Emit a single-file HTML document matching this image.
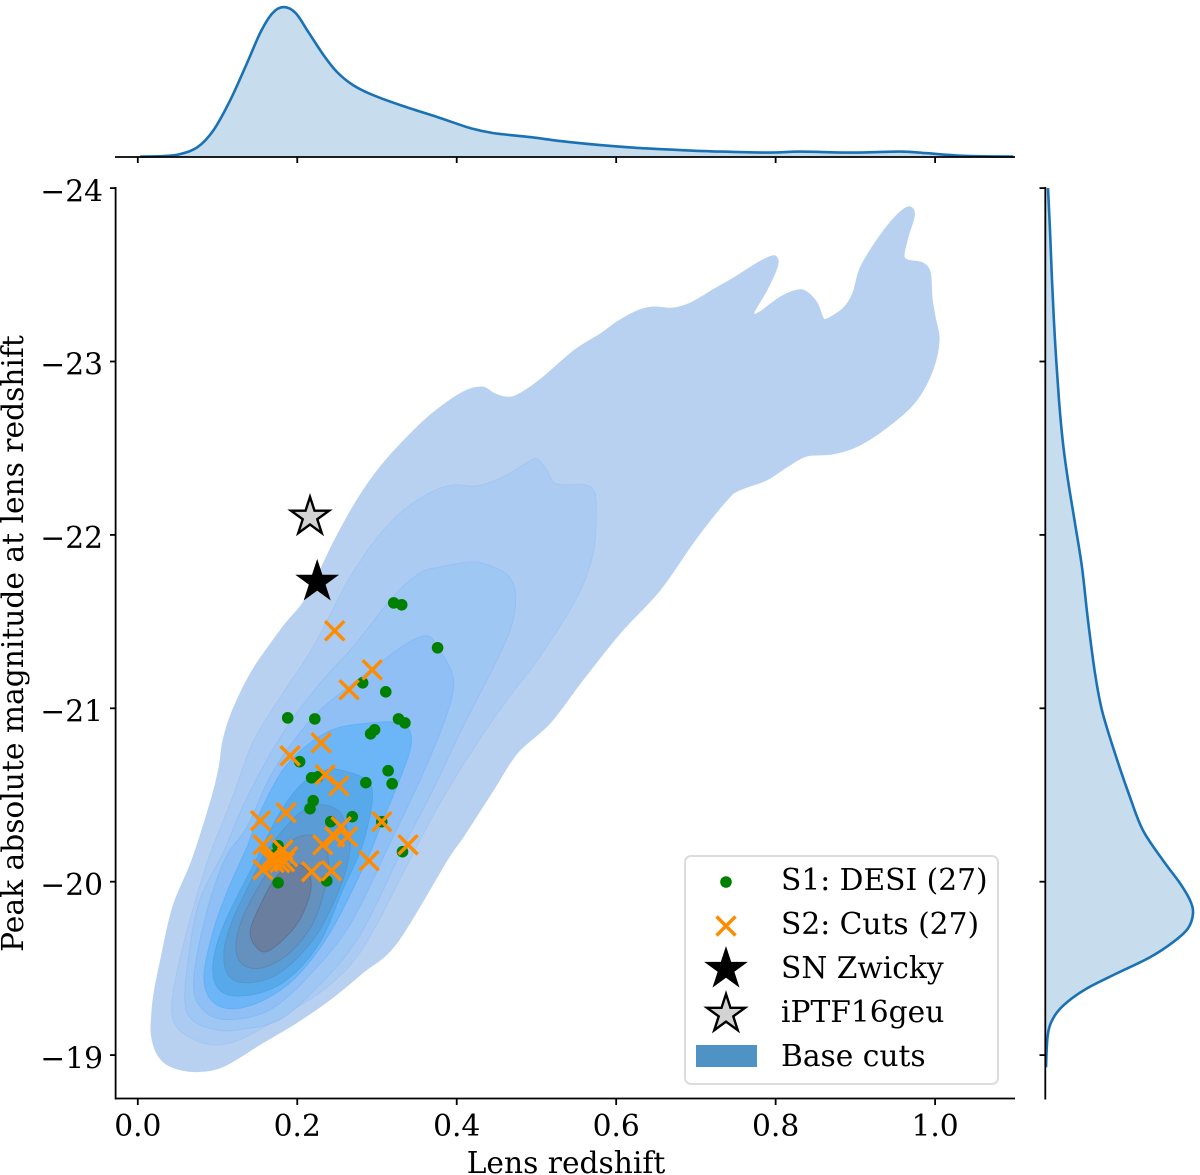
<!DOCTYPE html>
<html lang="en">
<head>
<meta charset="utf-8">
<title>Lens redshift vs peak absolute magnitude</title>
<style>
html,body{margin:0;padding:0;background:#fff;}
svg{display:block;}
text{font-family:"DejaVu Serif","Liberation Serif",serif;fill:#000;}
</style>
</head>
<body>
<svg id="chart" xmlns="http://www.w3.org/2000/svg" width="1200" height="1175" viewBox="0 0 1200 1175">
  <g id="marginal-top"></g>
  <g id="marginal-right"></g>
  <g id="contours"></g>
  <g id="s1"></g>
  <g id="s2"></g>
  <g id="stars"></g>
  <g id="axes"></g>
  <text x="566" y="1173" font-size="29.7" text-anchor="middle">Lens redshift</text>
  <text transform="translate(23,643.5) rotate(-90)" font-size="29.7" text-anchor="middle">Peak absolute magnitude at lens redshift</text>
  <g>
    <rect x="685" y="856" width="313" height="228" rx="6" ry="6" fill="#fff" fill-opacity="0.8" stroke="#dcdcdc" stroke-width="2"/>
    <circle cx="726" cy="882" r="5.8" fill="#008000"/>
    <path d="M716.5 916.5L735.5 935.5M735.5 916.5L716.5 935.5" stroke="#ff8c00" stroke-width="3.4" fill="none"/>
    <polygon id="legend-star-black" fill="#000"/>
    <polygon id="legend-star-gray" fill="#d3d3d3" stroke="#000" stroke-width="2.4"/>
    <rect x="696" y="1045" width="61" height="22" fill="#4f93c4"/>
    <text x="781" y="890" font-size="29.7">S1: DESI (27)</text>
    <text x="781" y="934" font-size="29.7">S2: Cuts (27)</text>
    <text x="781" y="978" font-size="29.7">SN Zwicky</text>
    <text x="781" y="1022" font-size="29.7">iPTF16geu</text>
    <text x="781" y="1066" font-size="29.7">Base cuts</text>
  </g>
</svg>
<script>
// Tick values and labels
const xTicks = [0, 0.2, 0.4, 0.6, 0.8, 1.0];
const xTickLabels = ['0.0', '0.2', '0.4', '0.6', '0.8', '1.0'];
const yTicks = [-24, -23, -22, -21, -20, -19];
const yTickLabels = ['\u221224', '\u221223', '\u221222', '\u221221', '\u221220', '\u221219'];

// Sample S1: DESI
const s1Redshift = [.321,.331,.376,.282,.311,.188,.222,.327,.335,.297,.292,.203,.314,.226,.218,.286,.319,.220,.216,.269,.242,.306,.176,.332,.176,.237,.172];
const s1Magnitude = [-21.608,-21.597,-21.349,-21.147,-21.095,-20.945,-20.939,-20.939,-20.916,-20.876,-20.853,-20.692,-20.640,-20.605,-20.599,-20.571,-20.565,-20.467,-20.421,-20.375,-20.346,-20.346,-20.207,-20.173,-19.994,-20.005,-20.156];

// Sample S2: Cuts
const s2Redshift = [.247,.294,.265,.230,.191,.235,.252,.154,.186,.306,.157,.339,.255,.263,.247,.232,.290,.188,.182,.169,.166,.178,.157,.218,.243,.184,.171];
const s2Magnitude = [-21.447,-21.222,-21.107,-20.801,-20.726,-20.617,-20.553,-20.352,-20.398,-20.346,-20.213,-20.213,-20.317,-20.259,-20.259,-20.213,-20.121,-20.144,-20.184,-20.144,-20.127,-20.110,-20.069,-20.058,-20.063,-20.115,-20.110];

// Individual supernovae
const zwickyPoint = [0.225, -21.729];
const iptfPoint = [0.216, -22.104];

// Marginal KDE: redshift
const topRedshift = [.003,.032,.053,.075,.095,.116,.137,.154,.169,.183,.198,.214,.233,.250,.270,.295,.333,.376,.417,.446,.492,.530,.580,.630,.681,.731,.794,.831,.894,.956,.988,1.020,1.044,1.098];
const topDensity = [0,.01,.05,.19,.53,1.13,1.87,2.49,2.87,2.99,2.87,2.49,2.03,1.69,1.43,1.23,1.01,.79,.57,.47,.39,.31,.23,.17,.13,.10,.08,.10,.08,.10,.07,.03,.01,0];

// Marginal KDE: magnitude
const rightMagnitude = [-24,-23.757,-23.468,-23.122,-22.776,-22.528,-22.315,-22.067,-21.813,-21.507,-21.202,-20.988,-20.740,-20.487,-20.296,-20.123,-19.991,-19.893,-19.818,-19.731,-19.651,-19.564,-19.472,-19.385,-19.305,-19.230,-19.126,-18.930];
const rightDensity = [.054,.094,.134,.194,.274,.354,.454,.594,.734,.854,.994,1.134,1.394,1.694,1.954,2.354,2.694,2.894,2.954,2.854,2.554,2.094,1.434,.834,.434,.194,.054,.014];

// KDE contours, [redshift, magnitude] outlines, outer to inner
const contourLevel1 = [[.074,-18.905],[.107,-18.934],[.157,-19.072],[.199,-19.187],[.241,-19.320],[.282,-19.475],[.325,-19.648],[.388,-20.125],[.408,-20.258],[.446,-20.529],[.476,-20.742],[.517,-20.915],[.558,-21.163],[.605,-21.434],[.655,-21.682],[.699,-21.971],[.739,-22.202],[.755,-22.259],[.789,-22.317],[.814,-22.392],[.839,-22.455],[.872,-22.467],[.906,-22.519],[.947,-22.646],[.977,-22.778],[.997,-22.951],[1.005,-23.124],[1.000,-23.256],[.996,-23.372],[.994,-23.510],[.985,-23.568],[.966,-23.585],[.961,-23.614],[.966,-23.718],[.974,-23.844],[.969,-23.891],[.959,-23.873],[.944,-23.804],[.927,-23.700],[.906,-23.539],[.897,-23.395],[.885,-23.308],[.864,-23.245],[.859,-23.256],[.852,-23.337],[.839,-23.401],[.827,-23.412],[.806,-23.372],[.780,-23.285],[.773,-23.285],[.789,-23.412],[.802,-23.545],[.802,-23.597],[.795,-23.608],[.777,-23.568],[.747,-23.481],[.721,-23.412],[.693,-23.337],[.671,-23.308],[.646,-23.314],[.626,-23.291],[.601,-23.228],[.580,-23.158],[.548,-23.066],[.504,-22.893],[.476,-22.807],[.461,-22.795],[.446,-22.818],[.432,-22.853],[.408,-22.824],[.370,-22.703],[.338,-22.565],[.304,-22.392],[.275,-22.201],[.245,-21.953],[.212,-21.642],[.182,-21.469],[.144,-21.221],[.119,-20.990],[.107,-20.817],[.102,-20.661],[.093,-20.488],[.068,-20.125],[.044,-19.856],[.028,-19.533],[.020,-19.347],[.017,-19.202],[.017,-19.115],[.023,-19.018],[.034,-18.954],[.050,-18.920]];
const contourLevel2 = [[.501,-22.438],[.489,-22.420],[.458,-22.334],[.425,-22.282],[.395,-22.288],[.366,-22.242],[.329,-22.126],[.295,-21.953],[.262,-21.723],[.220,-21.354],[.182,-21.088],[.144,-20.800],[.119,-20.488],[.094,-20.200],[.084,-20.069],[.061,-19.706],[.046,-19.406],[.043,-19.233],[.056,-19.130],[.090,-19.061],[.128,-19.089],[.184,-19.233],[.241,-19.406],[.285,-19.635],[.341,-20.125],[.379,-20.454],[.420,-20.760],[.463,-21.048],[.504,-21.296],[.551,-21.642],[.570,-21.873],[.575,-22.086],[.573,-22.242],[.561,-22.288],[.533,-22.288],[.521,-22.305],[.513,-22.374]];
const contourLevel3 = [[.420,-21.844],[.446,-21.815],[.467,-21.751],[.474,-21.625],[.467,-21.452],[.446,-21.238],[.404,-20.858],[.370,-20.529],[.333,-20.200],[.279,-19.695],[.228,-19.406],[.178,-19.205],[.128,-19.147],[.097,-19.147],[.068,-19.205],[.059,-19.320],[.065,-19.608],[.078,-19.896],[.107,-20.166],[.128,-20.396],[.153,-20.627],[.187,-20.892],[.229,-21.146],[.270,-21.354],[.320,-21.642],[.354,-21.780],[.379,-21.815]];
const contourLevel4 = [[.363,-21.417],[.373,-21.377],[.394,-21.204],[.394,-21.065],[.379,-20.858],[.350,-20.546],[.314,-20.200],[.266,-19.752],[.216,-19.464],[.166,-19.262],[.115,-19.205],[.084,-19.251],[.070,-19.406],[.084,-19.781],[.109,-20.127],[.137,-20.315],[.162,-20.569],[.187,-20.760],[.225,-20.973],[.270,-21.146],[.313,-21.296],[.345,-21.394]];
const contourLevel5 = [[.320,-20.921],[.338,-20.892],[.343,-20.800],[.333,-20.644],[.304,-20.315],[.287,-20.125],[.241,-19.706],[.191,-19.418],[.137,-19.280],[.099,-19.291],[.083,-19.435],[.094,-19.706],[.113,-19.952],[.137,-20.200],[.153,-20.396],[.182,-20.644],[.216,-20.800],[.250,-20.886],[.291,-20.915]];
const contourLevel6 = [[.254,-20.644],[.287,-20.587],[.294,-20.471],[.281,-20.200],[.257,-19.954],[.228,-19.648],[.187,-19.435],[.144,-19.349],[.107,-19.360],[.094,-19.493],[.107,-19.741],[.150,-20.142],[.178,-20.396],[.207,-20.569],[.237,-20.644]];
const contourLevel7 = [[.228,-20.444],[.250,-20.414],[.260,-20.339],[.266,-20.183],[.251,-19.937],[.220,-19.666],[.178,-19.475],[.141,-19.418],[.115,-19.452],[.108,-19.591],[.119,-19.781],[.149,-20.069],[.157,-20.144],[.175,-20.258],[.203,-20.396]];
const contourLevel8 = [[.212,-20.269],[.231,-20.229],[.239,-20.125],[.235,-19.971],[.220,-19.764],[.191,-19.591],[.157,-19.504],[.132,-19.522],[.123,-19.625],[.132,-19.798],[.157,-20.012],[.187,-20.212]];
const contourLevel9 = [[.212,-20.069],[.217,-19.954],[.203,-19.781],[.178,-19.648],[.156,-19.597],[.141,-19.706],[.157,-19.896],[.174,-20.029],[.194,-20.098]];
const contourLevels = [contourLevel1, contourLevel2, contourLevel3, contourLevel4, contourLevel5, contourLevel6, contourLevel7, contourLevel8, contourLevel9];
const contourFills = ['#b8d1f0','#abcbf2','#9fc7f4','#8fbff5','#6cb6f8','#58a9ea','#5a9cd6','#6491bd','#6a7f9f'];
const contourEdges = ['#b8d1f0','#a3c6f0','#96c0f3','#84baf6','#62b0f6','#52a3e6','#5495cf','#5c88b3','#5e7392'];

const SVG_NS = 'http://www.w3.org/2000/svg';
function xScale(z) { return 137.8 + 797.3 * z; }
function yScale(m) { return 881.7 + 173.4 * (m + 20); }
function topScale(d) { return 156.6 - 50 * d; }
function rightScale(d) { return 1045.3 + 50 * d; }

function make(tag, attrs, parent) {
  const el = document.createElementNS(SVG_NS, tag);
  for (const k in attrs) el.setAttribute(k, attrs[k]);
  parent.appendChild(el);
  return el;
}

function smoothPath(pts, closed) {
  const n = pts.length;
  const at = i => closed ? pts[(i + n) % n] : pts[Math.max(0, Math.min(n - 1, i))];
  let d = 'M' + pts[0][0].toFixed(2) + ' ' + pts[0][1].toFixed(2);
  const last = closed ? n : n - 1;
  for (let i = 0; i < last; i++) {
    const p0 = at(i - 1), p1 = at(i), p2 = at(i + 1), p3 = at(i + 2);
    const c1x = p1[0] + (p2[0] - p0[0]) / 6, c1y = p1[1] + (p2[1] - p0[1]) / 6;
    const c2x = p2[0] - (p3[0] - p1[0]) / 6, c2y = p2[1] - (p3[1] - p1[1]) / 6;
    d += 'C' + c1x.toFixed(2) + ' ' + c1y.toFixed(2) + ' ' + c2x.toFixed(2) + ' ' + c2y.toFixed(2) + ' ' + p2[0].toFixed(2) + ' ' + p2[1].toFixed(2);
  }
  return d + (closed ? 'Z' : '');
}

function starPoints(cx, cy, R) {
  const r = R * 0.381966;
  const out = [];
  for (let i = 0; i < 10; i++) {
    const a = -Math.PI / 2 + i * Math.PI / 5;
    const rad = i % 2 === 0 ? R : r;
    out.push((cx + rad * Math.cos(a)).toFixed(2) + ',' + (cy + rad * Math.sin(a)).toFixed(2));
  }
  return out.join(' ');
}

// Top marginal
const topGroup = document.getElementById('marginal-top');
const topPts = topRedshift.map((z, i) => [xScale(z), topScale(topDensity[i])]);
const topLinePath = smoothPath(topPts, false);
const topFill = make('path', { d: topLinePath + 'L' + topPts[topPts.length - 1][0] + ' 156.6L' + topPts[0][0] + ' 156.6Z', fill: '#c7dcec', stroke: 'none' }, topGroup);


const topLine = make('path', { d: topLinePath, fill: 'none', stroke: '#1a72b3', 'stroke-width': 2.6 }, topGroup);



// Right marginal
const rightGroup = document.getElementById('marginal-right');
const rightPts = rightMagnitude.map((m, i) => [rightScale(rightDensity[i]), yScale(m)]);
const rightLinePath = smoothPath(rightPts, false);
const rightFill = make('path', { d: rightLinePath + 'L1045.3 ' + rightPts[rightPts.length - 1][1] + 'L1045.3 ' + rightPts[0][1] + 'Z', fill: '#c7dcec', stroke: 'none' }, rightGroup);


const rightLine = make('path', { d: rightLinePath, fill: 'none', stroke: '#1a72b3', 'stroke-width': 2.6 }, rightGroup);



// Contours
const contourGroup = document.getElementById('contours');
contourLevels.forEach((level, i) => {
  const pts = level.map(p => [xScale(p[0]), yScale(p[1])]);
  const c = make('path', { d: smoothPath(pts, true), fill: contourFills[i], stroke: contourEdges[i], 'stroke-width': 1 }, contourGroup);
  
  
});

// S1 points
const s1Group = document.getElementById('s1');
s1Redshift.forEach((z, i) => {
  const c = make('circle', { cx: xScale(z), cy: yScale(s1Magnitude[i]), r: 5.8, fill: '#008000' }, s1Group);
  
  
});

// S2 points
const s2Group = document.getElementById('s2');
s2Redshift.forEach((z, i) => {
  const px = xScale(z), py = yScale(s2Magnitude[i]), a = 9.6;
  const c = make('path', { d: 'M' + (px - a) + ' ' + (py - a) + 'L' + (px + a) + ' ' + (py + a) + 'M' + (px + a) + ' ' + (py - a) + 'L' + (px - a) + ' ' + (py + a), stroke: '#ff8c00', 'stroke-width': 3.4, fill: 'none' }, s2Group);
  
  
});

// Stars
const starGroup = document.getElementById('stars');
const grayStar = make('polygon', { points: starPoints(xScale(iptfPoint[0]), yScale(iptfPoint[1]), 20), fill: '#d3d3d3', stroke: '#000', 'stroke-width': 2.4 }, starGroup);


const blackStar = make('polygon', { points: starPoints(xScale(zwickyPoint[0]), yScale(zwickyPoint[1]), 23), fill: '#000' }, starGroup);


document.getElementById('legend-star-black').setAttribute('points', starPoints(726, 969, 23));
document.getElementById('legend-star-gray').setAttribute('points', starPoints(726, 1014, 20));

// Axes
const axesGroup = document.getElementById('axes');
const lineSpec = [
  ['main-x-axis', 115, 1098.5, 1015, 1098.5],
  ['main-y-axis', 115.6, 187, 115.6, 1099.5],
  ['top-marginal-axis', 115, 157, 1015, 157],
  ['right-marginal-axis', 1045.3, 187, 1045.3, 1099.5]
];
lineSpec.forEach(s => {
  const l = make('line', { x1: s[1], y1: s[2], x2: s[3], y2: s[4], stroke: '#000', 'stroke-width': 1.8 }, axesGroup);
  
  
});
xTicks.forEach((v, i) => {
  const px = xScale(v);
  const t = make('line', { x1: px, y1: 1098.5, x2: px, y2: 1105, stroke: '#000', 'stroke-width': 1.8 }, axesGroup);
  
  
  const t2 = make('line', { x1: px, y1: 157, x2: px, y2: 163, stroke: '#000', 'stroke-width': 1.8 }, axesGroup);
  
  
  const lab = make('text', { x: px, y: 1136, 'font-size': 29.7, 'text-anchor': 'middle' }, axesGroup);
  
  
  lab.textContent = xTickLabels[i];
});
yTicks.forEach((v, i) => {
  const py = yScale(v);
  const t = make('line', { x1: 110, y1: py, x2: 115.6, y2: py, stroke: '#000', 'stroke-width': 1.8 }, axesGroup);
  
  
  const t2 = make('line', { x1: 1039.5, y1: py, x2: 1045.3, y2: py, stroke: '#000', 'stroke-width': 1.8 }, axesGroup);
  
  
  const lab = make('text', { x: 103, y: py + 13.2, 'font-size': 29.7, 'text-anchor': 'end' }, axesGroup);
  
  
  lab.textContent = yTickLabels[i];
});
</script>
</body>
</html>
